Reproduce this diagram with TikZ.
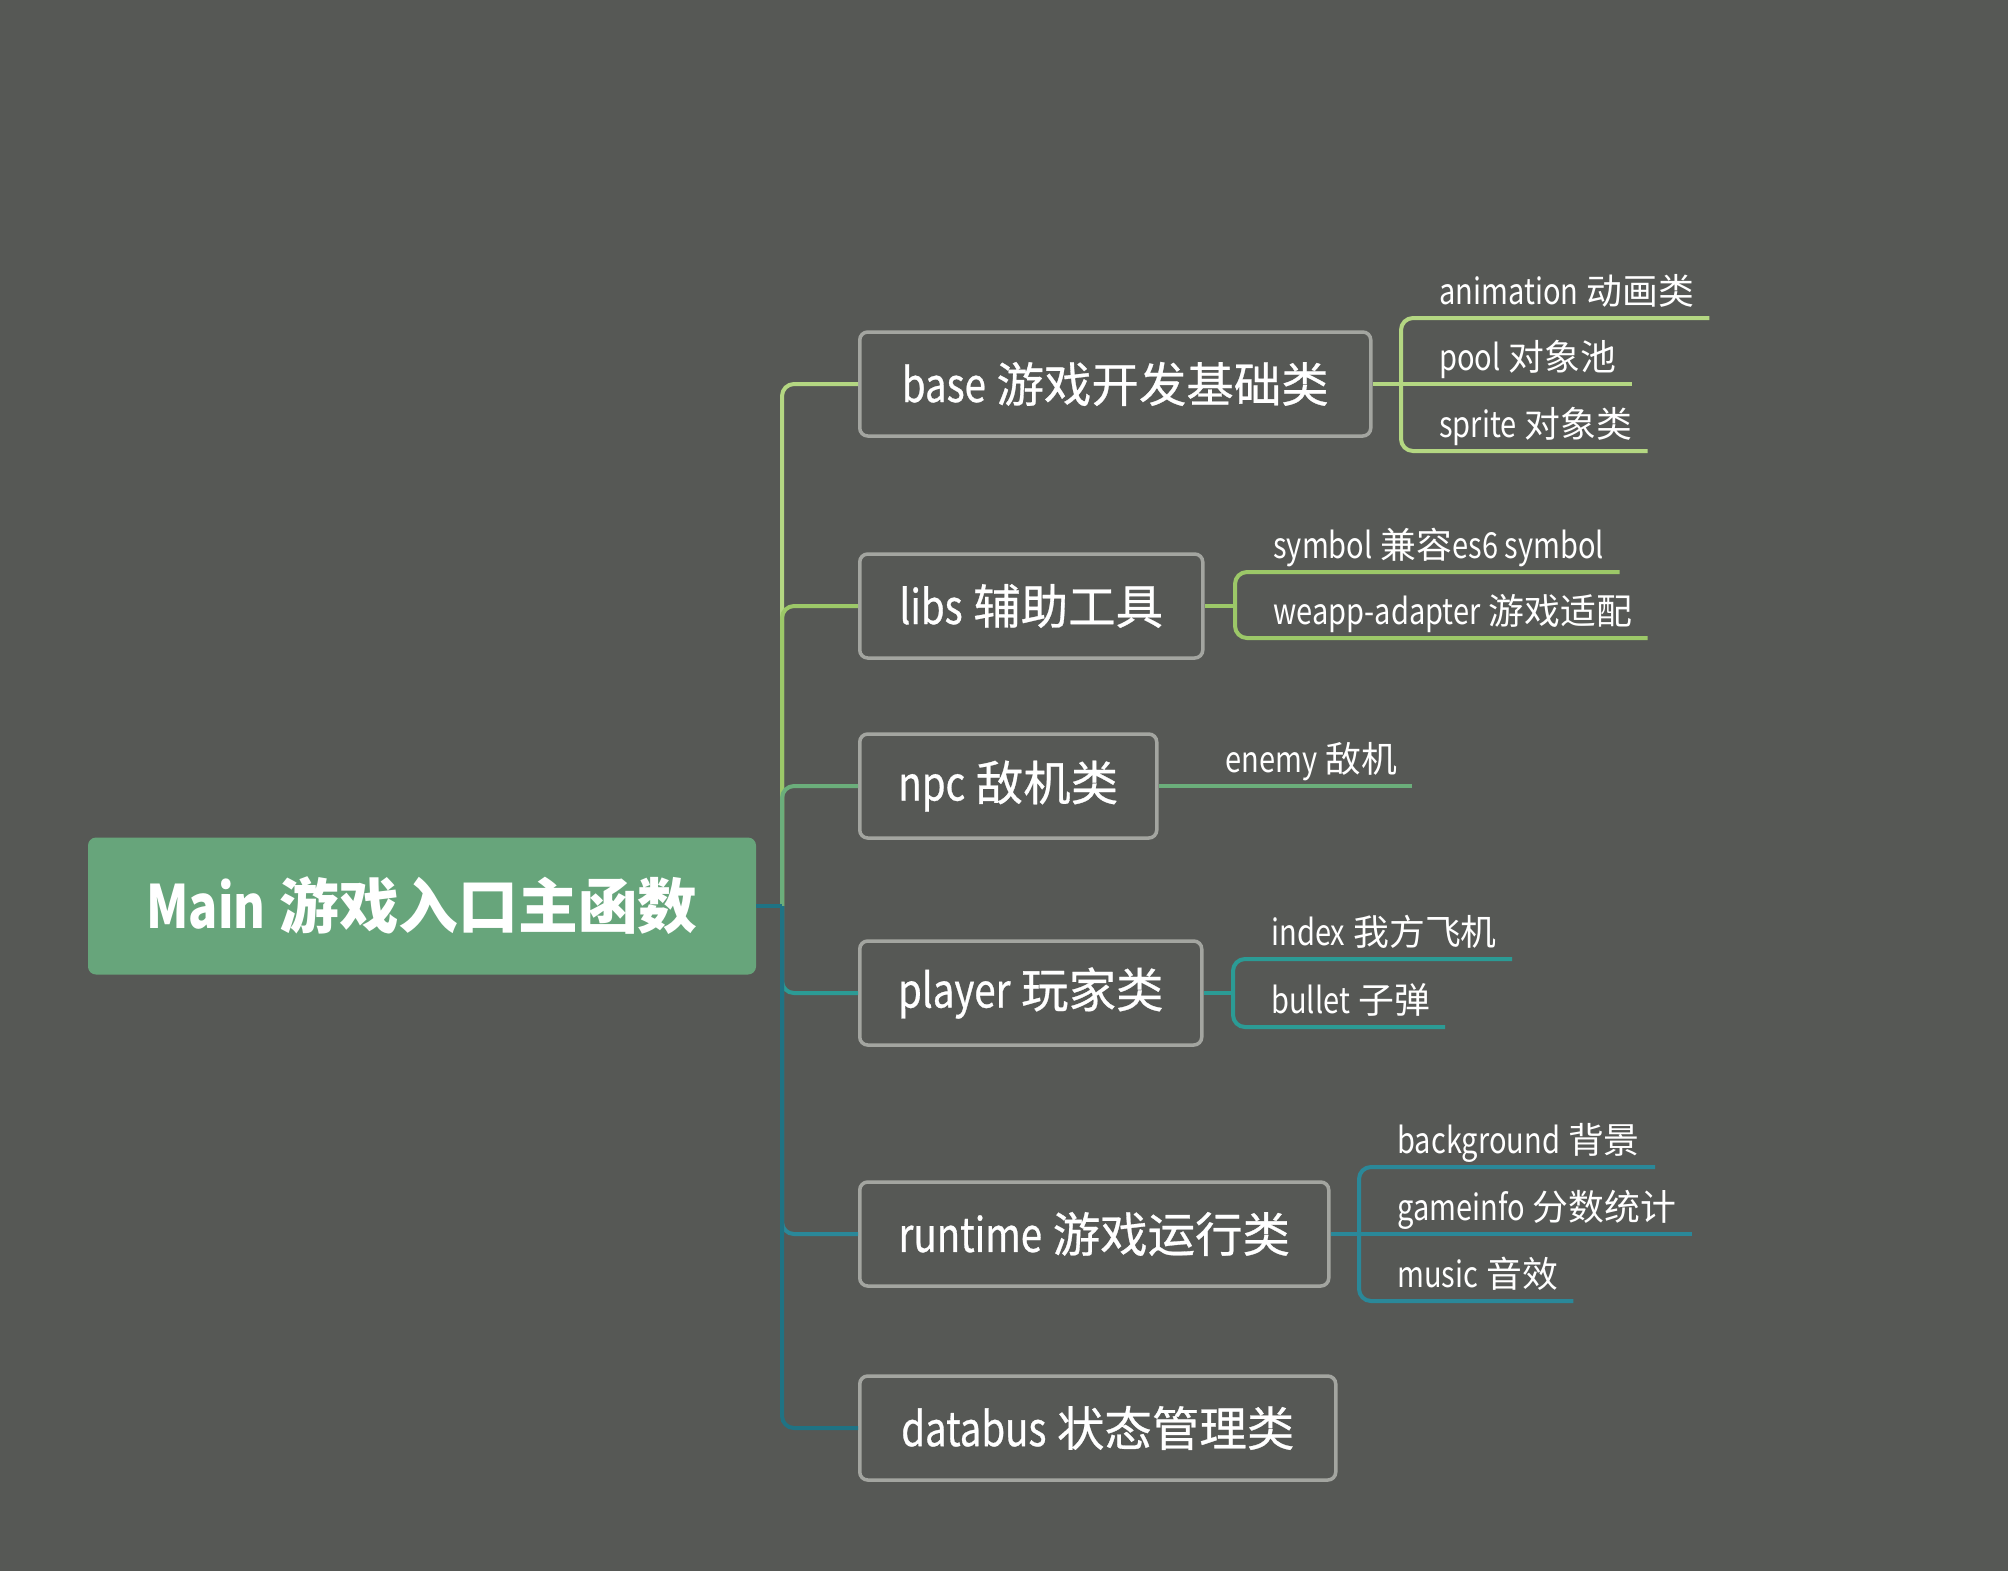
\documentclass[tikz,border=0pt]{standalone}
\usepackage{fontspec}
\setmainfont{Noto Sans CJK SC}
\newfontfamily\topicfont{Noto Sans CJK SC}[FakeBold=0.6]
\newcommand{\cond}[1]{{\addfontfeatures{FakeStretch=0.81}#1}}

\definecolor{BackColor}{rgb}{0.337,0.345,0.333}
\definecolor{MainColor}{rgb}{0.404,0.647,0.482}
\definecolor{BorderColor}{rgb}{0.639,0.647,0.627}
\definecolor{BaseColor}{rgb}{0.706,0.843,0.510}
\definecolor{LibsColor}{rgb}{0.612,0.784,0.408}
\definecolor{NpcColor}{rgb}{0.420,0.682,0.482}
\definecolor{PlayerColor}{rgb}{0.169,0.608,0.584}
\definecolor{RuntimeColor}{rgb}{0.165,0.533,0.600}
\definecolor{DatabusColor}{rgb}{0.122,0.451,0.518}

\tikzstyle{root}=[rectangle,
                  fill=MainColor,
                  rounded corners=0.16cm,
                  minimum width=13.36cm,
                  minimum height=2.74cm,
                  text=white,
                  font=\fontsize{34}{40}\selectfont\bfseries]
\tikzstyle{topic}=[rectangle,
                   draw=BorderColor,
                   line width=0.07cm,
                   rounded corners=0.16cm,
                   anchor=west,
                   minimum height=2.08cm,
                   text=white,
                   font=\topicfont\fontsize{27}{32}\selectfont]
\tikzstyle{subtopic}=[anchor=south west,
                      inner xsep=0.3cm,
                      inner ysep=0.26cm,
                      text depth=0pt,
                      text=white,
                      font=\fontsize{20.4}{24}\selectfont]
\tikzstyle{link}=[line width=0.08cm]
\tikzstyle{elbow}=[link, rounded corners=0.24cm]

\begin{document}
\begin{tikzpicture}
    \useasboundingbox[fill=BackColor] (0,0) rectangle (40.16,-31.42);

      \node at ( 8.44, -18.12) (main)    [root]                         {\cond{Main} 游戏入口主函数};
      \node at (17.16,  -7.68) (base)    [topic, minimum width=10.22cm] {\cond{base} 游戏开发基础类};
      \node at (17.16, -12.12) (libs)    [topic, minimum width=6.86cm]  {\cond{libs} 辅助工具};
      \node at (17.16, -15.72) (npc)     [topic, minimum width=5.94cm]  {\cond{npc} 敌机类};
      \node at (17.16, -19.86) (player)  [topic, minimum width=6.84cm]  {\cond{player} 玩家类};
      \node at (17.16, -24.68) (runtime) [topic, minimum width=9.38cm]  {\cond{runtime} 游戏运行类};
      \node at (17.16, -28.56) (databus) [topic, minimum width=9.52cm]  {\cond{databus} 状态管理类};

      \node at (28.48,  -6.36) (animation)  [subtopic] {\cond{animation} 动画类};
      \node at (28.48,  -7.68) (pool)       [subtopic] {\cond{pool} 对象池};
      \node at (28.48,  -9.02) (sprite)     [subtopic] {\cond{sprite} 对象类};
      \node at (25.16, -11.44) (symbol)     [subtopic] {\cond{symbol} 兼容\cond{es6 symbol}};
      \node at (25.16, -12.76) (weapp)      [subtopic] {\cond{weapp-adapter} 游戏适配};
      \node at (24.20, -15.72) (enemy)      [subtopic] {\cond{enemy} 敌机};
      \node at (25.12, -19.18) (index)      [subtopic] {\cond{index} 我方飞机};
      \node at (25.12, -20.54) (bullet)     [subtopic] {\cond{bullet} 子弹};
      \node at (27.64, -23.34) (background) [subtopic] {\cond{background} 背景};
      \node at (27.64, -24.68) (gameinfo)   [subtopic] {\cond{gameinfo} 分数统计};
      \node at (27.64, -26.02) (music)      [subtopic] {\cond{music} 音效};

      \coordinate (trunk)        at (15.64, -18.12);
      \coordinate (base_fork)    at (28.02,  -7.68);
      \coordinate (libs_fork)    at (24.70, -12.12);
      \coordinate (player_fork)  at (24.66, -19.86);
      \coordinate (runtime_fork) at (27.18, -24.68);

      \draw[elbow, BaseColor]    (trunk) |- (base.west);
      \draw[elbow, LibsColor]    (trunk) |- (libs.west);
      \draw[elbow, NpcColor]     (trunk) |- (npc.west);
      \draw[elbow, PlayerColor]  (trunk) |- (player.west);
      \draw[elbow, RuntimeColor] (trunk) |- (runtime.west);
      \draw[elbow, DatabusColor] (trunk) |- (databus.west);
      \draw[link, DatabusColor]  (main.east) -- (trunk);

      \draw[link, BaseColor]     (base.east)      -- (base_fork);
      \draw[elbow, BaseColor]    (base_fork)      |- (animation.south east);
      \draw[link, BaseColor]     (base_fork)      -- (pool.south east);
      \draw[elbow, BaseColor]    (base_fork)      |- (sprite.south east);

      \draw[link, LibsColor]     (libs.east)      -- (libs_fork);
      \draw[elbow, LibsColor]    (libs_fork)      |- (symbol.south east);
      \draw[elbow, LibsColor]    (libs_fork)      |- (weapp.south east);

      \draw[link, NpcColor]      (npc.east)       -- (enemy.south east);

      \draw[link, PlayerColor]   (player.east)    -- (player_fork);
      \draw[elbow, PlayerColor]  (player_fork)    |- (index.south east);
      \draw[elbow, PlayerColor]  (player_fork)    |- (bullet.south east);

      \draw[link, RuntimeColor]  (runtime.east)   -- (runtime_fork);
      \draw[elbow, RuntimeColor] (runtime_fork)   |- (background.south east);
      \draw[link, RuntimeColor]  (runtime_fork)   -- (gameinfo.south east);
      \draw[elbow, RuntimeColor] (runtime_fork)   |- (music.south east);
  \end{tikzpicture}
\end{document}
